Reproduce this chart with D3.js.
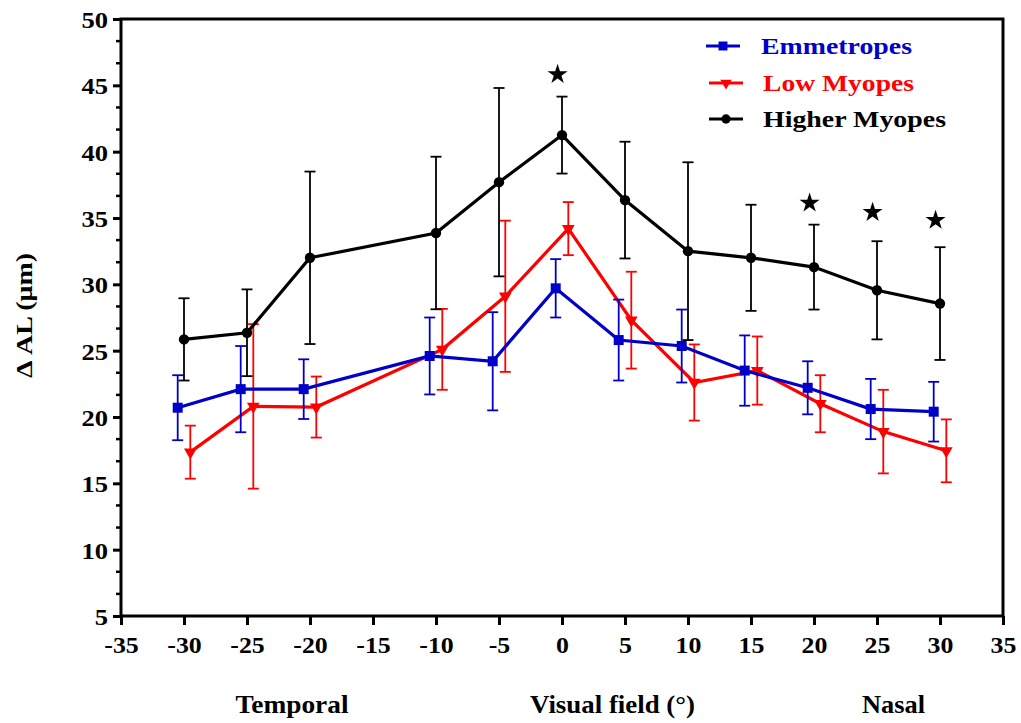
<!DOCTYPE html>
<html><head><meta charset="utf-8">
<script src="https://cdn.jsdelivr.net/npm/d3@7"></script>
<style>body{margin:0;background:#fff}svg{display:block}text{font-family:"Liberation Serif","Times New Roman",serif;font-weight:bold}</style>
</head><body>
<svg id="c" width="1021" height="723"></svg>
<script>
const angles = [-30,-25,-20,-10,-5,0,5,10,15,20,25,30];
const emmMean = [20.7,22.1,22.1,24.6,24.2,29.7,25.8,25.35,23.5,22.2,20.6,20.4];
const emmErr  = [2.45,3.25,2.25,2.9,3.7,2.2,3.05,2.75,2.65,2.0,2.27,2.25];
const lowMean = [17.35,20.8,20.75,25.1,29.1,34.2,27.3,22.6,23.5,21.0,18.9,17.45];
const lowErr  = [2.0,6.2,2.3,3.05,5.7,2.0,3.65,2.87,2.57,2.15,3.15,2.37];
const highMean= [25.85,26.35,32.0,33.87,37.7,41.25,36.35,32.5,32.0,31.3,29.55,28.55];
const highErr = [3.1,3.27,6.5,5.75,7.1,2.9,4.4,6.7,4.0,3.2,3.7,4.25];
const starAngles = [0,20,25,30];
const starValues = [45.9,36.2,35.5,34.9];
const seriesNames = ["Emmetropes","Low Myopes","Higher Myopes"];
const xTicks = [-35,-30,-25,-20,-15,-10,-5,0,5,10,15,20,25,30,35];
const yTicks = [5,10,15,20,25,30,35,40,45,50];

const svg = d3.select("#c");
const x = d3.scaleLinear().domain([-35,35]).range([121,1003]);
const y = d3.scaleLinear().domain([5,50]).range([616,19]);

function stretch(sel, k){
  sel.each(function(){
    const n = this.getComputedTextLength();
    d3.select(this).attr("textLength", n*k).attr("lengthAdjust","spacingAndGlyphs");
  });
}
function fitTo(sel, w){
  sel.attr("textLength", w).attr("lengthAdjust","spacingAndGlyphs");
}

const series = [
  {name:seriesNames[0], mean:emmMean, err:emmErr, color:"#0000c8", sym:d3.symbolSquare, size:100, dx:-0.5},
  {name:seriesNames[1], mean:lowMean, err:lowErr, color:"#ff0000", sym:d3.symbolTriangle, size:70, dx:0.5, rot:180},
  {name:seriesNames[2], mean:highMean, err:highErr, color:"#000000", sym:d3.symbolCircle, size:85, dx:0}
];

svg.append("rect").attr("x",x(-35)).attr("y",y(50)).attr("width",x(35)-x(-35)).attr("height",y(5)-y(50))
  .attr("fill","none").attr("stroke","#000").attr("stroke-width",3);

const yMinor = d3.range(0,28).map(i=>5+i*5/3).filter(v=>v<=50.01 && Math.abs((v-5)/5 - Math.round((v-5)/5))>0.01);
const ga = svg.append("g").attr("transform",`translate(${x(-35)},0)`);
ga.selectAll("line.mn").data(yMinor).join("line").attr("x1",-5).attr("x2",0)
  .attr("y1",d=>y(d)).attr("y2",d=>y(d)).attr("stroke","#000").attr("stroke-width",2.5);
const yAxis = d3.axisLeft(y).tickValues(yTicks).tickSize(8).tickPadding(5).tickFormat(d=>String(d));
ga.call(yAxis);
ga.select(".domain").remove();
ga.selectAll(".tick line").attr("stroke","#000").attr("stroke-width",3);
ga.selectAll(".tick text").attr("font-size",23.5).attr("fill","#000").attr("dy","0.36em");
stretch(ga.selectAll(".tick text"),1.13);

const gx = svg.append("g").attr("transform",`translate(0,${y(5)})`);
const xAxis = d3.axisBottom(x).tickValues(xTicks).tickSize(9).tickPadding(11).tickFormat(d=>String(d));
gx.call(xAxis);
gx.select(".domain").remove();
gx.selectAll(".tick line").attr("stroke","#000").attr("stroke-width",3);
gx.selectAll(".tick text").attr("font-size",23.5).attr("fill","#000");
stretch(gx.selectAll(".tick text"),1.1);

fitTo(svg.append("text").attr("transform",`translate(32,315.5) rotate(-90)`).attr("text-anchor","middle")
  .attr("font-size",23).text("\u0394 AL (\u03bcm)"),125);
fitTo(svg.append("text").attr("x",292).attr("y",713).attr("text-anchor","middle").attr("font-size",25).text("Temporal"),113);
fitTo(svg.append("text").attr("x",612.5).attr("y",713).attr("text-anchor","middle").attr("font-size",25).text("Visual field (\u00b0)"),165);
fitTo(svg.append("text").attr("x",893.5).attr("y",713).attr("text-anchor","middle").attr("font-size",25).text("Nasal"),63);

const drawOrder = [1,0,2];
drawOrder.forEach(si=>{
  const s = series[si];
  const pts = angles.map((a,i)=>({a, m:s.mean[i], e:s.err[i]}));
  const g = svg.append("g");
  pts.forEach(p=>{
    const cx = x(p.a+s.dx);
    g.append("line").attr("x1",cx).attr("x2",cx).attr("y1",y(p.m+p.e)).attr("y2",y(p.m-p.e)).attr("stroke",s.color).attr("stroke-width",1.8);
    [p.m+p.e,p.m-p.e].forEach(v=>g.append("line").attr("x1",cx-5.5).attr("x2",cx+5.5).attr("y1",y(v)).attr("y2",y(v)).attr("stroke",s.color).attr("stroke-width",1.8));
  });
  g.append("path").datum(pts).attr("fill","none").attr("stroke",s.color).attr("stroke-width",3.2)
    .attr("d",d3.line().x(p=>x(p.a+s.dx)).y(p=>y(p.m)));
  g.selectAll("path.m").data(pts).join("path").attr("class","m")
    .attr("transform",p=>`translate(${x(p.a+s.dx)},${y(p.m)})`+(s.rot?` rotate(${s.rot})`:""))
    .attr("d",d3.symbol().type(s.sym).size(s.size)).attr("fill",s.color);
});

svg.selectAll("path.star").data(starAngles.map((a,i)=>({a,v:starValues[i]}))).join("path")
  .attr("transform",d=>`translate(${x(d.a-0.35)},${y(d.v)+1})`)
  .attr("d",d3.symbol().type(d3.symbolStar).size(125)).attr("fill","#000");

const legY = [46,83,119];
const legW = [151,151,183];
series.forEach((s,i)=>{
  const lg = svg.append("g");
  const x0 = i===0?706:709, x1 = i===0?740:743;
  lg.append("line").attr("x1",x0).attr("x2",x1).attr("y1",legY[i]).attr("y2",legY[i]).attr("stroke",s.color).attr("stroke-width",3.2);
  lg.append("path").attr("transform",`translate(${(x0+x1)/2},${legY[i]})`+(s.rot?` rotate(${s.rot})`:""))
    .attr("d",d3.symbol().type(s.sym).size(s.size*0.8)).attr("fill",s.color);
  fitTo(lg.append("text").attr("x",i===0?761:763).attr("y",legY[i]+8).attr("font-size",23).attr("fill",s.color).text(s.name), legW[i]);
});
</script>
</body></html>
